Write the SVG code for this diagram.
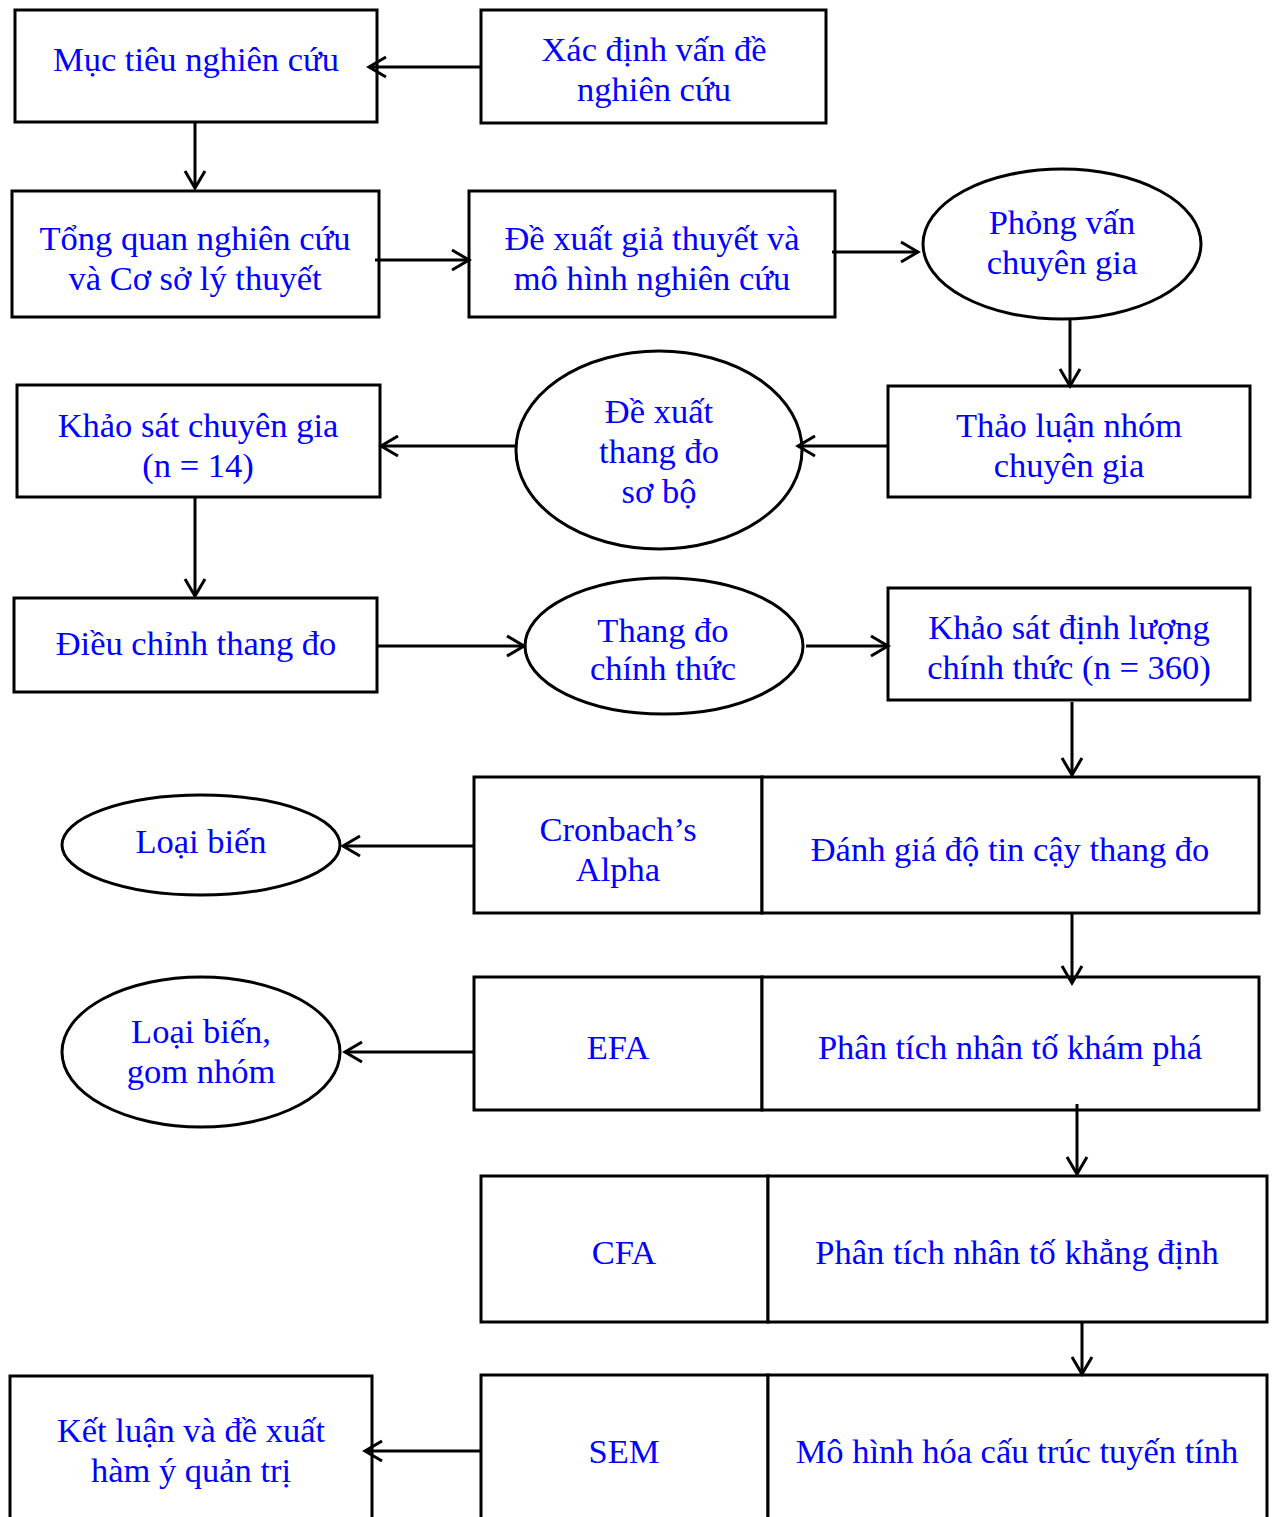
<svg xmlns="http://www.w3.org/2000/svg" width="1272" height="1517" viewBox="0 0 1272 1517">
  <style>
    .box { fill: #ffffff; stroke: #000000; stroke-width: 3; }
    .oval { fill: #ffffff; stroke: #000000; stroke-width: 3; }
    .lbl { font-family: "Liberation Serif", "Times New Roman", serif; font-size: 34.5px; fill: #0000ff; text-anchor: middle; }
    .edge { fill: none; stroke: #000000; stroke-width: 3; marker-end: url(#arrow); }
  </style>
  <defs>
    <marker id="arrow" viewBox="0 0 20 22" refX="18" refY="11" markerWidth="20" markerHeight="22" markerUnits="userSpaceOnUse" orient="auto" overflow="visible">
      <path d="M1,1 L18,11 L1,21" fill="none" stroke="#000000" stroke-width="3"/>
    </marker>
  </defs>
  <rect width="1272" height="1517" fill="#ffffff"/>

  <!-- nodes -->
  <g id="muc-tieu">
    <rect class="box" x="15" y="10" width="362" height="112"/>
    <text class="lbl" x="196" y="71">Mục tiêu nghiên cứu</text>
  </g>
  <g id="xac-dinh">
    <rect class="box" x="481" y="10" width="345" height="113"/>
    <text class="lbl" x="654" y="61">Xác định vấn đề</text>
    <text class="lbl" x="654" y="101">nghiên cứu</text>
  </g>
  <g id="tong-quan">
    <rect class="box" x="12" y="191" width="367" height="126"/>
    <text class="lbl" x="195" y="250">Tổng quan nghiên cứu</text>
    <text class="lbl" x="195" y="290">và Cơ sở lý thuyết</text>
  </g>
  <g id="de-xuat-gia-thuyet">
    <rect class="box" x="469" y="191" width="366" height="126"/>
    <text class="lbl" x="652" y="250">Đề xuất giả thuyết và</text>
    <text class="lbl" x="652" y="290">mô hình nghiên cứu</text>
  </g>
  <g id="phong-van">
    <ellipse class="oval" cx="1062" cy="244" rx="139" ry="75"/>
    <text class="lbl" x="1062" y="234">Phỏng vấn</text>
    <text class="lbl" x="1062" y="274">chuyên gia</text>
  </g>
  <g id="thao-luan">
    <rect class="box" x="888" y="386" width="362" height="111"/>
    <text class="lbl" x="1069" y="437">Thảo luận nhóm</text>
    <text class="lbl" x="1069" y="477">chuyên gia</text>
  </g>
  <g id="thang-do-so-bo">
    <ellipse class="oval" cx="659" cy="450" rx="143" ry="99"/>
    <text class="lbl" x="659" y="423">Đề xuất</text>
    <text class="lbl" x="659" y="463">thang đo</text>
    <text class="lbl" x="659" y="503">sơ bộ</text>
  </g>
  <g id="khao-sat-chuyen-gia">
    <rect class="box" x="17" y="385" width="363" height="112"/>
    <text class="lbl" x="198" y="437">Khảo sát chuyên gia</text>
    <text class="lbl" x="198" y="477">(n = 14)</text>
  </g>
  <g id="dieu-chinh">
    <rect class="box" x="14" y="598" width="363" height="94"/>
    <text class="lbl" x="196" y="655">Điều chỉnh thang đo</text>
  </g>
  <g id="thang-do-chinh-thuc">
    <ellipse class="oval" cx="664" cy="646" rx="139" ry="68"/>
    <text class="lbl" x="663" y="642">Thang đo</text>
    <text class="lbl" x="663" y="680">chính thức</text>
  </g>
  <g id="khao-sat-dinh-luong">
    <rect class="box" x="888" y="588" width="362" height="112"/>
    <text class="lbl" x="1069" y="639">Khảo sát định lượng</text>
    <text class="lbl" x="1069" y="679">chính thức (n = 360)</text>
  </g>
  <g id="cronbach">
    <rect class="box" x="474" y="777" width="288" height="136"/>
    <rect class="box" x="762" y="777" width="497" height="136"/>
    <text class="lbl" x="618" y="841">Cronbach’s</text>
    <text class="lbl" x="618" y="881">Alpha</text>
    <text class="lbl" x="1010" y="861">Đánh giá độ tin cậy thang đo</text>
  </g>
  <g id="loai-bien">
    <ellipse class="oval" cx="201" cy="845" rx="139" ry="50"/>
    <text class="lbl" x="201" y="853">Loại biến</text>
  </g>
  <g id="efa">
    <rect class="box" x="474" y="977" width="288" height="133"/>
    <rect class="box" x="762" y="977" width="497" height="133"/>
    <text class="lbl" x="618" y="1059">EFA</text>
    <text class="lbl" x="1010" y="1059">Phân tích nhân tố khám phá</text>
  </g>
  <g id="loai-bien-gom-nhom">
    <ellipse class="oval" cx="201" cy="1052" rx="139" ry="75"/>
    <text class="lbl" x="201" y="1043">Loại biến,</text>
    <text class="lbl" x="201" y="1083">gom nhóm</text>
  </g>
  <g id="cfa">
    <rect class="box" x="481" y="1176" width="287" height="146"/>
    <rect class="box" x="768" y="1176" width="499" height="146"/>
    <text class="lbl" x="624" y="1264">CFA</text>
    <text class="lbl" x="1017" y="1264">Phân tích nhân tố khẳng định</text>
  </g>
  <g id="sem">
    <rect class="box" x="481" y="1375" width="287" height="160"/>
    <rect class="box" x="768" y="1375" width="499" height="160"/>
    <text class="lbl" x="624" y="1463">SEM</text>
    <text class="lbl" x="1017" y="1463">Mô hình hóa cấu trúc tuyến tính</text>
  </g>
  <g id="ket-luan">
    <rect class="box" x="10" y="1376" width="362" height="160"/>
    <text class="lbl" x="191" y="1442">Kết luận và đề xuất</text>
    <text class="lbl" x="191" y="1482">hàm ý quản trị</text>
  </g>

  <!-- connectors -->
  <g id="connectors">
    <line class="edge" x1="481" y1="67" x2="369" y2="67"/>
    <line class="edge" x1="195" y1="122" x2="195" y2="188"/>
    <line class="edge" x1="375" y1="260" x2="469" y2="260"/>
    <line class="edge" x1="832" y1="252" x2="918" y2="252"/>
    <line class="edge" x1="1070" y1="319" x2="1070" y2="386"/>
    <line class="edge" x1="888" y1="446" x2="798" y2="446"/>
    <line class="edge" x1="516" y1="446" x2="381" y2="446"/>
    <line class="edge" x1="195" y1="497" x2="195" y2="596"/>
    <line class="edge" x1="377" y1="646" x2="524" y2="646"/>
    <line class="edge" x1="806" y1="646" x2="888" y2="646"/>
    <line class="edge" x1="1072" y1="702" x2="1072" y2="775"/>
    <line class="edge" x1="474" y1="846" x2="343" y2="846"/>
    <line class="edge" x1="1072" y1="913" x2="1072" y2="983"/>
    <line class="edge" x1="474" y1="1052" x2="345" y2="1052"/>
    <line class="edge" x1="1077" y1="1104" x2="1077" y2="1174"/>
    <line class="edge" x1="1082" y1="1322" x2="1082" y2="1374"/>
    <line class="edge" x1="481" y1="1451" x2="365" y2="1451"/>
  </g>
</svg>
